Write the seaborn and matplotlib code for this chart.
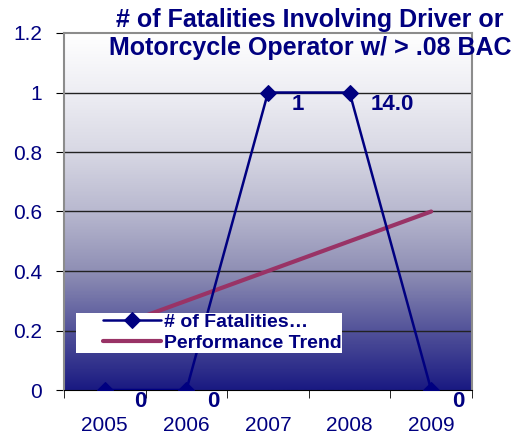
import numpy as np
import pandas as pd
import matplotlib
matplotlib.use("Agg")
import matplotlib.pyplot as plt
import seaborn as sns
from matplotlib.colors import LinearSegmentedColormap
from matplotlib.patches import Rectangle

# ---------------- DATA ----------------
years = ["2005", "2006", "2007", "2008", "2009"]
fatalities = [0, 0, 1, 1, 0]
trend = [0.2, 0.3, 0.4, 0.5, 0.6]
point_labels = ["0", "0", "1", "14.0", "0"]
title_lines = ["# of Fatalities Involving Driver or",
               "Motorcycle Operator w/ > .08 BAC"]

NAVY = "#000080"
TREND_COLOR = "#993366"

sns.set_style("white")
plt.rcParams["font.family"] = ["Liberation Sans", "DejaVu Sans"]

df = pd.DataFrame({"year": years, "pos": range(len(years)),
                   "fatalities": fatalities, "trend": trend})

fig = plt.figure(figsize=(5.18, 4.40), dpi=100)
ax = fig.add_axes([64/518, 1 - 390/440, 408/518, 357/440])

# gradient background (dark navy at bottom -> white at top)
cmap = LinearSegmentedColormap.from_list("bg", [
    (0.0, "#1a1a82"), (0.17, "#54549a"), (0.33, "#8e8eb4"),
    (0.5, "#b8b8cf"), (0.67, "#d8d8e4"), (0.83, "#ededf3"), (1.0, "#ffffff")])
grad = np.linspace(0, 1, 256).reshape(-1, 1)
ax.imshow(grad, cmap=cmap, origin="lower", aspect="auto",
          extent=[-0.5, 4.5, 0, 1.2], zorder=0)

for y in np.arange(0.2, 1.2, 0.2):
    ax.axhline(y, color="#222222", lw=1, zorder=1)

sns.lineplot(data=df, x="pos", y="fatalities", ax=ax, color=NAVY, lw=1.8,
             marker="D", markersize=8, markeredgecolor=NAVY,
             label="# of Fatalities\u2026", zorder=3)
sns.lineplot(data=df, x="pos", y="trend", ax=ax, color=TREND_COLOR, lw=3,
             label="Performance Trend", zorder=2)

# data labels, nudged right of each point (pixel offsets as in original)
label_dx = [21, 15, 17, 15, 15]
for i, (v, lab) in enumerate(zip(fatalities, point_labels)):
    ax.annotate(lab, (i, v), xytext=(label_dx[i], -1), textcoords="offset points",
                ha="left", va="top", fontsize=16, fontweight="bold",
                color=NAVY, annotation_clip=False, zorder=5)

ax.set_xlim(-0.5, 4.5)
ax.set_ylim(0, 1.2)
ax.set_yticks(np.arange(0, 1.21, 0.2))
ax.set_yticklabels(["0", "0.2", "0.4", "0.6", "0.8", "1", "1.2"])
ax.set_xticks(range(len(years)))
ax.set_xticklabels(years)
ax.set_xticks(np.arange(-0.5, 4.6, 1), minor=True)
ax.tick_params(axis="x", which="major", length=0, pad=19, labelsize=15,
               labelcolor=NAVY)
ax.tick_params(axis="x", which="minor", length=6, color="black",
               direction="out", bottom=True)
ax.tick_params(axis="y", length=6, color="black", direction="out",
               left=True, labelsize=15, labelcolor=NAVY, pad=10)
ax.set_xlabel("")
ax.set_ylabel("")
for side in ["top", "right", "left"]:
    ax.spines[side].set_color("#8c8c8c")
    ax.spines[side].set_linewidth(1.5)
ax.spines["bottom"].set_color("black")

# white legend box
ax.add_patch(Rectangle((12/408, 37/357), 266/408, 40/357,
                       transform=ax.transAxes, facecolor="white",
                       edgecolor="none", zorder=5))
leg = ax.legend(loc="upper left", bbox_to_anchor=(39/408, 77/357),
                frameon=False, prop={"weight": "bold", "size": 14},
                handlelength=3.0, handletextpad=0.15, labelspacing=0.2,
                borderpad=0.0, borderaxespad=0)
for t in leg.get_texts():
    t.set_color(NAVY)
leg.set_zorder(6)

for line, yb in zip(title_lines, [27, 55]):
    fig.text(0.598, 1 - yb/440, line, ha="center", va="baseline",
             fontsize=18, fontweight="bold", color=NAVY)

fig.savefig("out.png", dpi=100)
